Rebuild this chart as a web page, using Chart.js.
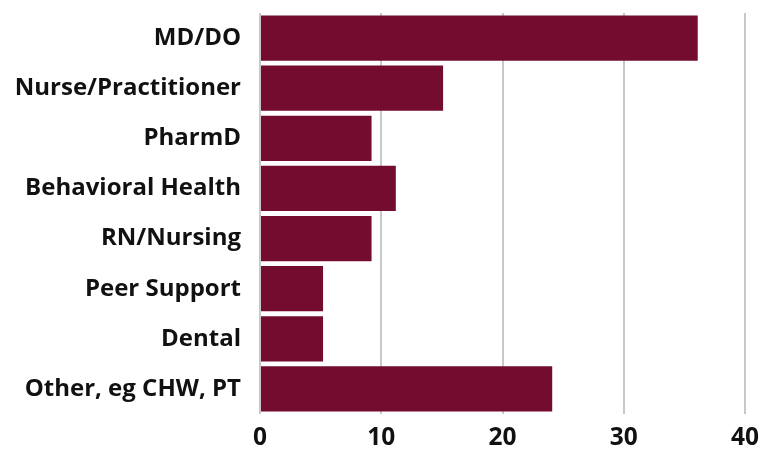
<!DOCTYPE html>
<html>
<head>
<meta charset="utf-8">
<script src="https://cdn.jsdelivr.net/npm/chart.js@4/dist/chart.umd.min.js"></script>
<style>
html,body{margin:0;padding:0;background:#fff;}
#wrap{width:767px;height:449px;position:relative;}
</style>
</head>
<body>
<div id="wrap"><canvas id="c"></canvas></div>
<script>
const categories = ["MD/DO","Nurse/Practitioner","PharmD","Behavioral Health","RN/Nursing","Peer Support","Dental","Other, eg CHW, PT"];
const values = [36.1, 15.1, 9.2, 11.2, 9.2, 5.2, 5.2, 24.1];
const xTicks = [0, 10, 20, 30, 40];

new Chart(document.getElementById('c'), {
  type: 'bar',
  data: {
    labels: categories,
    datasets: [{
      data: values,
      backgroundColor: '#730C2E',
      borderWidth: 0,
      barPercentage: 0.905,
      categoryPercentage: 1.0
    }]
  },
  options: {
    indexAxis: 'y',
    responsive: true,
    maintainAspectRatio: false,
    animation: false,
    layout: { padding: { top: 13, right: 22, bottom: 0, left: 0 } },
    plugins: { legend: { display: false }, tooltip: { enabled: false } },
    scales: {
      x: {
        min: xTicks[0],
        max: xTicks[xTicks.length - 1],
        afterBuildTicks: (axis) => { axis.ticks = xTicks.map(v => ({ value: v })); },
        afterFit: (s) => { s.height = 35; s.paddingLeft = 0; s.paddingRight = 0; },
        grid: { color: '#c8c8c8', lineWidth: 2, drawTicks: false },
        border: { display: false },
        ticks: { color: '#111', padding: 9, font: { family: 'Open Sans', weight: '700', size: 24.5 } }
      },
      y: {
        afterFit: (s) => { s.width = 260; s.paddingTop = 0; s.paddingBottom = 0; },
        grid: { display: false, drawTicks: false },
        border: { display: false },
        ticks: { color: '#111', padding: 19, font: { family: 'Open Sans', weight: '700', size: 24 } }
      }
    }
  }
});
</script>
</body>
</html>
